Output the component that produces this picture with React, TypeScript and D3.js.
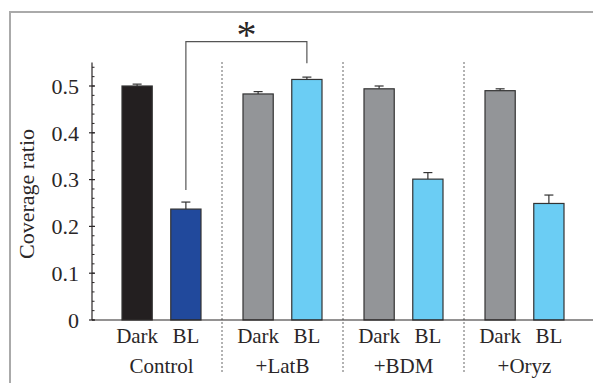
import React from 'react'
import * as d3 from 'd3'

const groups = ['Control', '+LatB', '+BDM', '+Oryz']
const conditions = ['Dark', 'BL']
const means = [
  [0.5, 0.237],
  [0.483, 0.514],
  [0.494, 0.301],
  [0.49, 0.249],
]
const errors = [
  [0.004, 0.015],
  [0.005, 0.005],
  [0.006, 0.014],
  [0.004, 0.018],
]
const yTickLabels = ['0', '0.1', '0.2', '0.3', '0.4', '0.5']
const colors = [
  ['#231f20', '#21499c'],
  ['#939598', '#6bcdf4'],
  ['#939598', '#6bcdf4'],
  ['#939598', '#6bcdf4'],
]

const W = 593
const H = 383
const font = "'Liberation Serif', 'DejaVu Serif', serif"
const ink = '#2a2627'

export default function App() {
  const y = d3.scaleLinear().domain([0, 0.55]).range([320, 62.6])
  const x0 = d3.scaleBand().domain(groups).range([101, 585]).padding(0)
  const x1 = d3.scaleBand().domain(conditions).range([21, 100]).paddingInner(0.38).paddingOuter(0)
  const axisX = 92
  const minor = y.ticks(27)

  // significance bracket: Control BL vs +LatB BL
  const bx1 = x0('Control')! + x1('BL')! + x1.bandwidth() / 2
  const bx2 = x0('+LatB')! + x1('BL')! + x1.bandwidth() / 2
  const by = 41.7

  return (
    <div style={{ position: 'absolute', left: 0, top: 0 }}>
      <svg width={W} height={H} style={{ display: 'block', background: '#fff', fontFamily: font }}>
        {/* frame */}
        <path d={`M10,${H} V12 H${W}`} fill="none" stroke="#aaa" strokeWidth={2} />

        {/* separators */}
        {groups.slice(1).map(g => (
          <line key={g} x1={x0(g)} x2={x0(g)} y1={62} y2={373}
            stroke="#555" strokeWidth={0.9} strokeDasharray="2,2" />
        ))}

        {/* bars */}
        {groups.map((g, gi) => conditions.map((c, ci) => {
          const bx = x0(g)! + x1(c)!
          const top = y(means[gi][ci])
          const etop = y(means[gi][ci] + errors[gi][ci])
          const cx = bx + x1.bandwidth() / 2
          return (
            <g key={g + c}>
              <line x1={cx} x2={cx} y1={top} y2={etop} stroke="#333" strokeWidth={1.2} />
              <line x1={cx - 4.5} x2={cx + 4.5} y1={etop} y2={etop} stroke="#333" strokeWidth={1.2} />
              <rect x={bx} y={top} width={x1.bandwidth()} height={y(0) - top}
                fill={colors[gi][ci]} stroke="#333" strokeWidth={1.2} />
              <text x={cx} y={343} textAnchor="middle" fontSize={21} fill={ink}>{c}</text>
            </g>
          )
        }))}

        {/* group labels */}
        {groups.map(g => (
          <text key={g} x={x0(g)! + x0.bandwidth() / 2} y={373} textAnchor="middle"
            fontSize={21} fill={ink}>{g}</text>
        ))}

        {/* y axis */}
        <line x1={axisX} x2={axisX} y1={y(0.55)} y2={y(0)} stroke={ink} strokeWidth={1.2} />
        {minor.map(t => (
          <line key={t} x1={axisX} x2={axisX + 2.5} y1={y(t)} y2={y(t)} stroke={ink} strokeWidth={1} />
        ))}
        {yTickLabels.map(l => (
          <g key={l}>
            <line x1={axisX - 3} x2={axisX + 3} y1={y(+l)} y2={y(+l)} stroke={ink} strokeWidth={1.2} />
            <text x={79} y={y(+l)} dy="0.35em" textAnchor="end" fontSize={22} fill={ink}>{l}</text>
          </g>
        ))}
        <line x1={axisX} x2={W} y1={y(0)} y2={y(0)} stroke={ink} strokeWidth={1.2} />

        <text transform="translate(26,194) rotate(-90)" textAnchor="middle" dy="0.35em"
          fontSize={22} fill={ink}>Coverage ratio</text>

        {/* bracket */}
        <path d={`M${bx1},190 V${by} H${bx2} V63.3`} fill="none" stroke="#555" strokeWidth={1.2} />
        <text x={(bx1 + bx2) / 2} y={48} textAnchor="middle" fontSize={40} fill={ink}>*</text>
      </svg>
    </div>
  )
}
